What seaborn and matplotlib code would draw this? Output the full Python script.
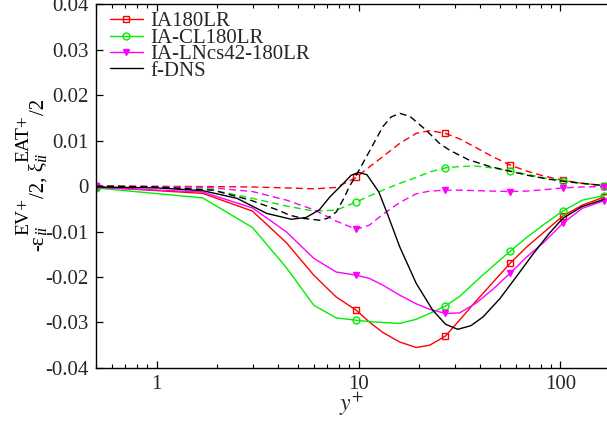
import numpy as np
import pandas as pd
import matplotlib
matplotlib.use("Agg")
import matplotlib.pyplot as plt
import seaborn as sns
from matplotlib.ticker import LogLocator, NullFormatter, FixedLocator

# wall-normal grid of the LES cases (y+)
y_les = [0.5, 1.69, 2.98, 4.4, 6.0, 7.75, 9.74, 11.3, 13.2, 16, 19.3, 22.5,
         26.9, 31.6, 38, 46, 56.5, 68, 83, 102.6, 128, 165]

# IA180LR
ia_ev = [-0.0002, -0.0016, -0.0055, -0.0125, -0.0196, -0.0244, -0.0273, -0.0299,
         -0.0322, -0.0343, -0.0355, -0.0350, -0.0330, -0.0295, -0.0254, -0.0213,
         -0.0169, -0.0134, -0.0101, -0.0066, -0.0042, -0.0024]
ia_eat = [0.0, -0.0001, -0.0002, -0.0004, -0.0006, -0.0003, 0.0019, 0.0042,
          0.0065, 0.0094, 0.0116, 0.0122, 0.0116, 0.0104, 0.0085, 0.0065,
          0.0046, 0.0033, 0.0022, 0.0013, 0.0006, 0.0001]

# IA-CL180LR
cl_ev = [-0.0004, -0.0026, -0.0091, -0.0180, -0.0262, -0.0290, -0.0295, -0.0298,
         -0.0300, -0.0302, -0.0293, -0.0280, -0.0264, -0.0243, -0.0210, -0.0177,
         -0.0143, -0.0113, -0.0084, -0.0055, -0.0031, -0.0021]
cl_eat = [0.0, -0.0004, -0.0027, -0.0044, -0.0055, -0.0053, -0.0035, -0.0022,
          -0.0009, 0.0006, 0.0019, 0.0031, 0.0040, 0.0043, 0.0044, 0.0040,
          0.0033, 0.0026, 0.0018, 0.0012, 0.0006, 0.0001]

# IA-LNcs42-180LR
ln_ev = [-0.0003, -0.0013, -0.0048, -0.0101, -0.0159, -0.0189, -0.0196, -0.0203,
         -0.0218, -0.0240, -0.0259, -0.0271, -0.0280, -0.0279, -0.0258, -0.0228,
         -0.0191, -0.0156, -0.0123, -0.0082, -0.0049, -0.0032]
ln_eat = [0.0, -0.0002, -0.0012, -0.0031, -0.0052, -0.0077, -0.0095, -0.0086,
          -0.0062, -0.0036, -0.0017, -0.0011, -0.0009, -0.0009, -0.0010, -0.0011,
          -0.0012, -0.0011, -0.0008, -0.0004, -0.0002, -0.0001]

# filtered DNS reference
y_dns_ev = [0.5, 1, 1.69, 2.5, 3.5, 4.64, 5.5, 6.4, 7.2, 8.2, 9.2, 10, 11, 12.6,
            14, 16, 19.3, 23.3, 27, 31, 36, 41.3, 50, 60.3, 73, 88, 102.6, 128, 165]
dns_ev = [-0.0002, -0.0004, -0.0010, -0.0027, -0.0060, -0.0073, -0.0069, -0.0052,
          -0.0024, 0.0001, 0.0024, 0.0030, 0.0025, -0.0013, -0.0065, -0.0134,
          -0.0214, -0.0273, -0.0304, -0.0315, -0.0307, -0.0288, -0.0248, -0.0200,
          -0.0150, -0.0104, -0.0071, -0.0045, -0.0029]
y_dns_eat = [0.5, 1, 1.9, 2.92, 4.0, 4.55, 5.3, 6.4, 7.0, 7.75, 8.5, 9.0, 9.74,
             11.3, 13.2, 14.5, 16, 18, 21.6, 25, 28.2, 35, 44.7, 55.9, 70, 88,
             110, 135, 165]
dns_eat = [0.0, -0.0002, -0.0009, -0.0031, -0.0053, -0.0064, -0.0071, -0.0075,
           -0.0071, -0.0057, -0.0025, -0.0001, 0.0024, 0.0076, 0.0131, 0.0152,
           0.0160, 0.0153, 0.0123, 0.0095, 0.0079, 0.0058, 0.0043, 0.0033,
           0.0023, 0.0015, 0.0009, 0.0005, 0.0001]

labels = ["IA180LR", "IA-CL180LR", "IA-LNcs42-180LR", "f-DNS"]
x_ticks = [1, 10, 100]
x_ticklabels = ["1", "10", "100"]
y_ticks = [-0.04, -0.03, -0.02, -0.01, 0, 0.01, 0.02, 0.03, 0.04]
y_ticklabels = ["-0.04", "-0.03", "-0.02", "-0.01", "0", "0.01", "0.02", "0.03", "0.04"]

sns.set_theme(style="ticks")
plt.rcParams["font.family"] = ["Liberation Serif", "DejaVu Serif"]
plt.rcParams["mathtext.fontset"] = "stix"
plt.rcParams["xtick.direction"] = "in"
plt.rcParams["ytick.direction"] = "in"

W, H = 607, 421
fig = plt.figure(figsize=(W / 100, H / 100), dpi=100)
ax = fig.add_axes([0.158, 0.126, 0.842, 0.864])

mark_idx = [0, 6, 12, 16, 19, 21]
cases = [
    (ia_ev, ia_eat, "#ff0000", "s", "none", labels[0]),
    (cl_ev, cl_eat, "#00ee00", "o", "none", labels[1]),
    (ln_ev, ln_eat, "#ff00ff", "v", "#ff00ff", labels[2]),
]
handles = []
for ev, eat, col, mk, mfc, lab in cases:
    df = pd.DataFrame({"y": y_les, "ev": ev, "eat": eat})
    sns.lineplot(data=df, x="y", y="ev", ax=ax, color=col, lw=1.0, marker=mk,
                 markersize=5, markerfacecolor=mfc, markeredgecolor=col,
                 markeredgewidth=1.0, markevery=mark_idx, sort=False)
    h = ax.lines[-1]
    h.set_label(lab)
    handles.append(h)
    sns.lineplot(data=df, x="y", y="eat", ax=ax, color=col, lw=1.0, marker=mk,
                 markersize=5, markerfacecolor=mfc, markeredgecolor=col,
                 markeredgewidth=1.0, markevery=mark_idx, sort=False)
    ax.lines[-1].set_linestyle((0, (5, 3)))

df_ev = pd.DataFrame({"y": y_dns_ev, "v": dns_ev})
df_eat = pd.DataFrame({"y": y_dns_eat, "v": dns_eat})
sns.lineplot(data=df_ev, x="y", y="v", ax=ax, color="black", lw=1.0, sort=False)
h = ax.lines[-1]
h.set_label(labels[3])
handles.append(h)
sns.lineplot(data=df_eat, x="y", y="v", ax=ax, color="black", lw=1.0, sort=False)
ax.lines[-1].set_linestyle((0, (5, 3)))

ax.set_xscale("log")
ax.set_xlim(0.5, 170)
ax.set_ylim(-0.04, 0.04)
ax.xaxis.set_major_locator(FixedLocator(x_ticks))
ax.set_xticklabels(x_ticklabels)
ax.xaxis.set_minor_locator(LogLocator(base=10, subs=np.arange(2, 10)))
ax.xaxis.set_minor_formatter(NullFormatter())
ax.set_yticks(y_ticks)
ax.set_yticklabels(y_ticklabels)
ax.tick_params(axis="both", which="major", labelsize=15, length=5, width=0.9,
               color="black", top=True, right=False, pad=5)
ax.tick_params(axis="x", which="minor", length=3, width=0.8, top=True, color="black")
for side in ["left", "bottom", "top"]:
    ax.spines[side].set_color("black")
    ax.spines[side].set_linewidth(1.0)
ax.spines["right"].set_visible(False)

ax.set_xlabel(r"$y^{+}$", fontsize=17, labelpad=-2)
ax.set_ylabel("")

# rotated axis title built piece by piece: main text, subscripts, superscripts
renderer = fig.canvas.get_renderer()


def put(text, x_px, y_px, size, style="normal"):
    t = fig.text(x_px / W, 1 - y_px / H, text, rotation=90, rotation_mode="anchor",
                 ha="left", va="baseline", fontsize=size, style=style,
                 color="black")
    return t.get_window_extent(renderer).height


base_x = 43.5
sup_x = base_x - 15
sub_x = base_x + 3
pos = 251.0
pos -= put("-\u03b5", base_x, pos, 15)
w1 = put("ii", sub_x, pos, 12, "italic")
w2 = put("EV+", sup_x, pos, 14)
pos -= max(w1, w2)
pos -= put("/2, \u03be", base_x, pos, 15)
w1 = put("ii", sub_x, pos, 12, "italic")
w2 = put("EAT+", sup_x, pos, 14)
pos -= max(w1, w2)
put("/2", base_x, pos, 15)

ax.legend(handles=handles, loc="upper left", bbox_to_anchor=(-0.006, 1.025),
          frameon=False, fontsize=15, handlelength=1.6, handletextpad=0.35,
          labelspacing=-0.15, borderaxespad=0.4)

fig.savefig("out.png", dpi=100)
